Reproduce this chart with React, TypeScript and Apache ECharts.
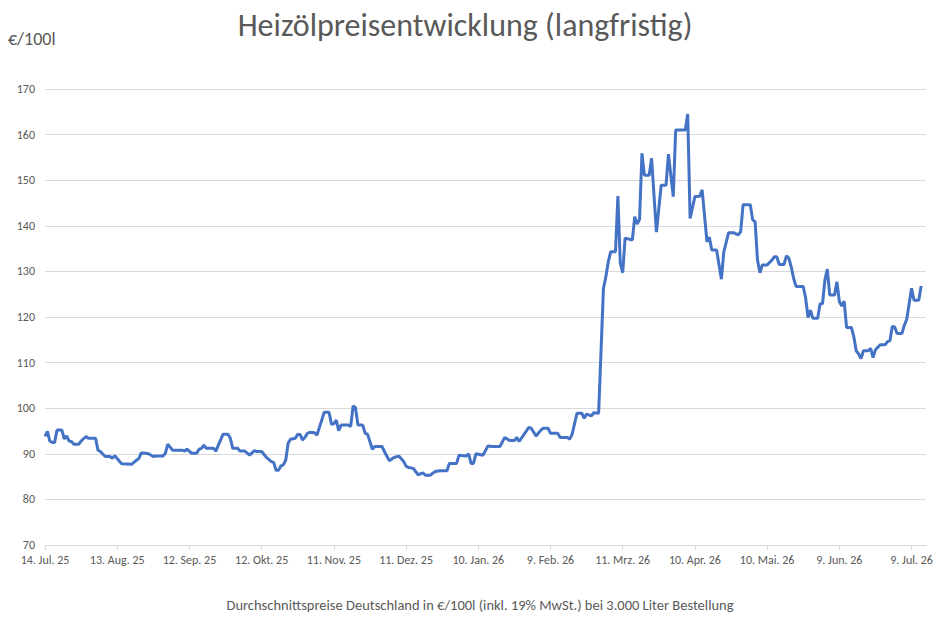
import React, { useEffect, useRef } from "react";
import * as echarts from "echarts";

// day index counted from 14. Jul. 2025
const days = [
  0, 1, 2, 3, 4, 5, 7, 8, 9, 10, 11, 12, 14, 15, 17, 18, 21, 22, 23, 25, 27, 28, 29, 31, 32, 36, 38, 39, 40, 42,
  43, 45, 46, 49, 50, 51, 53, 57, 58, 59, 61, 63, 64, 65, 66, 67, 70, 71, 72, 74, 76, 77, 78, 80, 81, 83, 85, 87,
  88, 90, 92, 94, 95, 96, 97, 98, 99, 100, 101, 102, 104, 105, 106, 107, 108, 109, 110, 112, 113, 114, 116, 118,
  119, 120, 121, 122, 123, 126, 127, 128, 129, 130, 132, 133, 134, 136, 137, 140, 141, 143, 145, 147, 149, 150,
  151, 153, 155, 157, 158, 160, 162, 164, 167, 168, 171, 172, 175, 176, 177, 178, 179, 182, 184, 186, 189, 191,
  193, 195, 196, 197, 201, 202, 204, 206, 207, 209, 210, 213, 214, 217, 218, 219, 221, 223, 224, 225, 227, 228,
  230, 232, 233, 234, 235, 237, 238, 239, 240, 241, 244, 245, 246, 247, 248, 249, 251, 252, 254, 256, 258, 259,
  261, 262, 266, 267, 268, 270, 272, 273, 275, 276, 277, 279, 281, 282, 284, 286, 288, 289, 290, 293, 294, 295,
  296, 297, 298, 300, 302, 303, 304, 305, 307, 308, 309, 310, 311, 312, 315, 316, 317, 318, 319, 321, 322, 323,
  324, 325, 326, 328, 329, 330, 331, 332, 333, 335, 336, 337, 338, 339, 340, 342, 343, 344, 345, 347, 349, 350,
  351, 352, 353, 354, 356, 357, 358, 360, 361, 363, 364,
];

const prices = [
  93.8, 94.9, 92.8, 92.5, 92.5, 95.2, 95.2, 93.3, 93.9, 92.8, 92.7, 92.1, 92.1, 92.8, 93.8, 93.4, 93.4, 90.8, 90.5,
  89.4, 89.4, 89.0, 89.6, 88.3, 87.8, 87.7, 88.6, 89.0, 90.2, 90.1,
  90.0, 89.4, 89.5, 89.5, 90.1, 92.1, 90.8, 90.8, 90.6, 91.0, 90.1, 90.1, 91.0, 91.2, 91.9, 91.2, 91.2, 90.6, 91.9,
  94.3, 94.3, 93.4, 91.2, 91.2, 90.6, 90.6, 89.7, 90.7,
  90.5, 90.5, 89.2, 88.3, 88.1, 86.4, 86.4, 87.3, 87.6, 88.6, 92.3, 93.2, 93.4, 94.3, 94.2, 93.0, 93.6, 94.5, 94.7,
  94.6, 94.1, 95.8, 99.1, 99.1,
  96.5, 96.6, 97.4, 95.1, 96.3, 96.3, 96.0, 100.5, 100.1, 96.3, 96.3, 94.5, 94.3, 91.0, 91.6, 91.6, 90.5, 88.5, 89.2,
  89.5, 88.3, 87.3,
  87.0, 86.8, 85.4, 85.8, 85.3, 85.3, 86.1, 86.3, 86.3, 87.9, 87.9, 89.7, 89.5, 90.0, 87.9, 87.9, 90.0, 89.7, 91.7,
  91.6, 91.6, 93.6,
  92.9, 92.9, 93.6, 92.7, 95.8, 95.6, 93.9, 95.2, 95.6, 95.6, 94.5, 94.5, 93.6, 93.6, 93.2, 94.3, 98.9, 98.9, 97.8,
  98.7, 98.3, 99.0,
  98.9, 126.3, 128.8, 132.1, 134.3, 134.3, 146.5, 131.8, 129.7, 137.3, 136.9, 142.0, 140.4, 141.4, 155.9, 151.1,
  151.1, 154.8, 138.6, 148.9, 148.9, 155.7,
  146.4, 161.0, 161.0, 164.5, 141.6, 146.4, 146.5, 147.9, 136.5, 137.5, 134.7, 134.7, 128.3, 134.3, 138.5, 138.5,
  138.0, 138.7, 144.6, 144.6, 141.3, 140.9,
  132.5, 129.7, 131.4, 131.4, 132.5, 133.2, 133.2, 131.5, 131.5, 133.4, 132.9, 131.0, 128.5, 126.7, 126.7, 124.1,
  119.9, 121.5, 119.7, 119.7, 122.9, 122.9,
  128.1, 130.5, 124.8, 124.8, 127.7, 123.4, 122.4, 123.5, 117.7, 117.7, 115.7, 112.6, 111.9, 110.9, 112.6, 112.6,
  113.1, 111.1, 112.8, 113.9, 113.9, 114.6,
  114.8, 117.9, 117.8, 116.4, 116.4, 118.2, 119.5, 126.3, 123.7, 123.7, 126.8,
];

const tickDays = [0, 30, 60, 90, 120, 150, 180, 210, 240, 270, 300, 330, 360];
const tickLabels = [
  "14. Jul. 25",
  "13. Aug. 25",
  "12. Sep. 25",
  "12. Okt. 25",
  "11. Nov. 25",
  "11. Dez. 25",
  "10. Jan. 26",
  "9. Feb. 26",
  "11. Mrz. 26",
  "10. Apr. 26",
  "10. Mai. 26",
  "9. Jun. 26",
  "9. Jul. 26",
];

const titleText = "Heizölpreisentwicklung (langfristig)";
const unitText = "€/100l";
const footText = "Durchschnittspreise Deutschland in €/100l (inkl. 19% MwSt.) bei 3.000 Liter Bestellung";

const FONT = "Carlito, 'Open Sans', sans-serif";

export default function App() {
  const ref = useRef<HTMLDivElement>(null);

  useEffect(() => {
    const chart = echarts.init(ref.current as HTMLDivElement, null, { renderer: "svg" });
    chart.setOption({
      animation: false,
      backgroundColor: "#ffffff",
      textStyle: { fontFamily: FONT },
      grid: { left: 45, right: 20, top: 89, bottom: 80, containLabel: false },
      graphic: [
        {
          type: "text",
          x: 465,
          y: 25,
          style: {
            text: titleText,
            fill: "#595959",
            font: `32px ${FONT}`,
            textAlign: "center",
            textVerticalAlign: "middle",
          },
        },
        {
          type: "text",
          x: 8,
          y: 39,
          style: {
            text: unitText,
            fill: "#595959",
            font: `18px ${FONT}`,
            textAlign: "left",
            textVerticalAlign: "middle",
          },
        },
        {
          type: "text",
          x: 480,
          y: 605,
          style: {
            text: footText,
            fill: "#595959",
            font: `14.5px ${FONT}`,
            textAlign: "center",
            textVerticalAlign: "middle",
          },
        },
      ],
      xAxis: {
        type: "value",
        min: 0,
        max: 366,
        splitLine: { show: false },
        axisLine: { show: true, lineStyle: { color: "#d9d9d9", width: 1 } },
        axisTick: {
          show: true,
          customValues: tickDays,
          length: 5,
          lineStyle: { color: "#d9d9d9" },
        },
        axisLabel: {
          customValues: tickDays,
          color: "#595959",
          fontSize: 12,
          margin: 9,
          fontFamily: FONT,
          formatter: (v: number) => {
            const i = tickDays.indexOf(v);
            return i >= 0 ? tickLabels[i] : "";
          },
        },
      },
      yAxis: {
        type: "value",
        min: 70,
        max: 170,
        interval: 10,
        axisLine: { show: false },
        axisTick: { show: false },
        splitLine: { lineStyle: { color: "#d9d9d9", width: 1 } },
        axisLabel: { color: "#595959", fontSize: 12, margin: 10, fontFamily: FONT },
      },
      series: [
        {
          type: "line",
          data: days.map((d, i) => [d, prices[i]]),
          showSymbol: false,
          symbol: "none",
          lineStyle: { color: "#4472C4", width: 3 },
          itemStyle: { color: "#4472C4" },
        },
      ],
    });
    return () => chart.dispose();
  }, []);

  return (
    <div
      ref={ref}
      style={{ position: "absolute", left: 0, top: 0, width: 946, height: 625 }}
    />
  );
}
